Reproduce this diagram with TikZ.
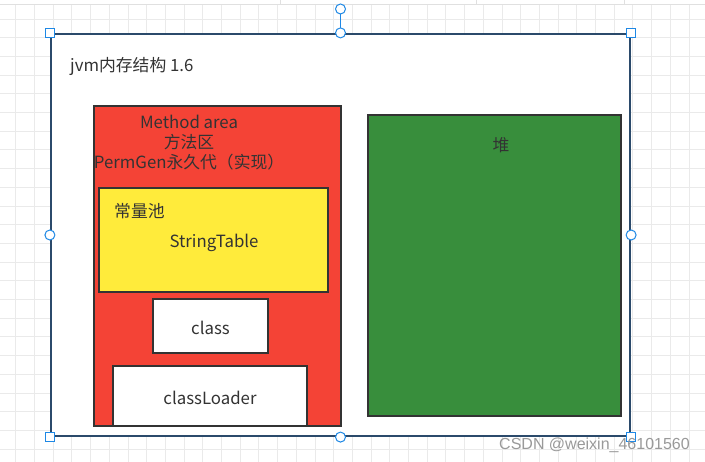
\documentclass[tikz,border=0pt]{standalone}
\usepackage{fontspec}
\setmainfont{Noto Sans CJK SC}
\newfontfamily\wmfont{Liberation Sans}
\definecolor{gridc}{HTML}{EAEAEA}
\definecolor{gridd}{HTML}{E0E0E0}
\definecolor{txt}{HTML}{333333}
\definecolor{redf}{HTML}{F44336}
\definecolor{yelf}{HTML}{FFEB3B}
\definecolor{grnf}{HTML}{388E3C}
\definecolor{selb}{HTML}{1E88E5}
\definecolor{frame}{HTML}{2B4A6B}
\tikzset{
  box/.style={draw=txt, line width=2pt},
  lbl/.style={text=txt, font=\fontsize{16.8}{20}\selectfont, inner sep=0pt, yshift=-1.8pt},
  hsq/.style={draw=selb, fill=white, line width=1pt, minimum size=9pt, inner sep=0pt, rectangle},
  hci/.style={draw=selb, fill=white, line width=1pt, minimum size=10pt, inner sep=0pt, circle},
}
\begin{document}
\begin{tikzpicture}[x=1pt,y=-1pt]
\useasboundingbox (0,0) rectangle (705,462);
\fill[white] (0,0) rectangle (705,462);
% grid
\foreach \i in {0,...,38} {
  \draw[gridc, line width=0.8pt] ({15.7+18.7*\i},0) -- ({15.7+18.7*\i},462);
}
\foreach \j in {1,...,25} {
  \draw[gridc, line width=0.8pt] (0,{0.3+18.7*\j}) -- (705,{0.3+18.7*\j});
}
% top bar
\fill[white] (0,0) rectangle (705,4);
\draw[gridd, line width=0.8pt] (0,4.5) -- (705,4.5);
\draw[gridd, line width=0.8pt] (280,0) -- (280,4.5);
\draw[gridd, line width=0.8pt] (476,0) -- (476,4.5);
\draw[gridd, line width=0.8pt] (624,0) -- (624,4.5);
% outer container
\node[draw=frame, fill=white, line width=2.2pt, minimum width=579pt, minimum height=402pt, inner sep=0pt, rectangle] (outer) at (340.5,235) {};
\node[lbl, anchor=west] (title) at (70,65) {jvm内存结构 1.6};
% method area
\node[box, fill=redf, minimum width=247pt, minimum height=320pt, inner sep=0pt] (method) at (217.5,266) {};
\node[lbl, align=center] (mtxt) at (189,141) {Method area\\方法区\\PermGen永久代（实现）};
\node[box, fill=yelf, minimum width=229pt, minimum height=104pt, inner sep=0pt] (pool) at (213.5,240) {};
\node[lbl, anchor=west] (pooltxt) at (114,209) {常量池};
\node[lbl] (st) at (214,241) {StringTable};
\node[box, fill=white, minimum width=115pt, minimum height=54pt, inner sep=0pt] (cls) at (210.5,326) {};
\node[lbl] at (cls.center) {class};
\node[box, fill=white, minimum width=194pt, minimum height=60pt, inner sep=0pt] (cl) at (210,396) {};
\node[lbl] at (cl.center) {classLoader};
% heap
\node[box, fill=grnf, minimum width=253pt, minimum height=301pt, inner sep=0pt] (heap) at (494.5,265.5) {};
\node[lbl] (heaptxt) at (501,143) {堆};
% selection handles
\draw[selb, line width=1pt] (outer.north) -- (340.5,14);
\node[hci] (rot) at (340.5,9) {};
\node[hsq] (h1) at (outer.north west) {};
\node[hsq] (h2) at (outer.north east) {};
\node[hsq] (h3) at (outer.south west) {};
\node[hsq] (h4) at (outer.south east) {};
\node[hci] (h5) at (outer.north) {};
\node[hci] (h6) at (outer.south) {};
\node[hci] (h7) at (outer.west) {};
\node[hci] (h8) at (outer.east) {};
% watermark
\node[anchor=east, text=black!40, font=\wmfont\fontsize{16}{18}\selectfont, inner sep=0pt] (wm) at (690,445) {CSDN @weixin\_46101560};
\end{tikzpicture}
\end{document}
